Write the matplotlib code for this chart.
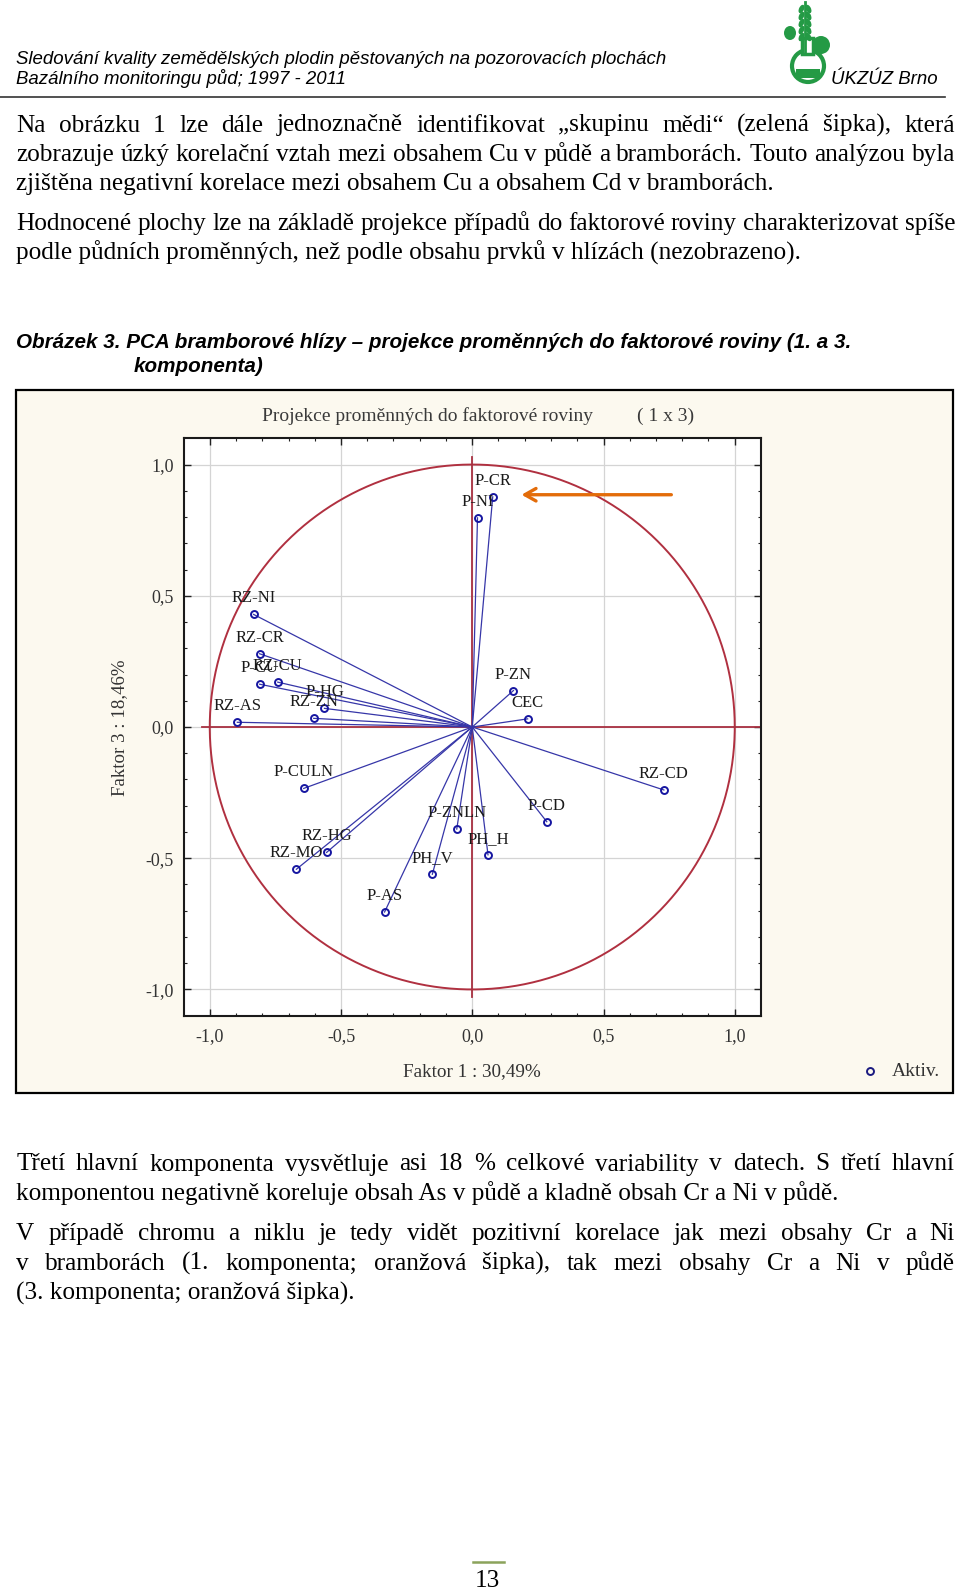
import matplotlib
matplotlib.use('Agg')
import matplotlib.pyplot as plt
import numpy as np
from matplotlib.patches import Rectangle, Circle, Ellipse

# --- data (factor 1 vs factor 3 loadings) ---
labels = ['P-CR', 'P-NI', 'RZ-NI', 'RZ-CR', 'P-CU', 'RZ-CU', 'P-HG', 'RZ-ZN',
          'RZ-AS', 'P-ZN', 'CEC', 'P-CULN', 'RZ-HG', 'RZ-MO', 'P-AS', 'PH_V',
          'P-ZNLN', 'PH_H', 'P-CD', 'RZ-CD']
f1 = [0.078, 0.020, -0.833, -0.810, -0.810, -0.741, -0.563, -0.604,
      -0.895, 0.157, 0.211, -0.642, -0.555, -0.670, -0.334, -0.152,
      -0.059, 0.060, 0.284, 0.730]
f3 = [0.877, 0.797, 0.429, 0.279, 0.163, 0.171, 0.071, 0.033,
      0.018, 0.139, 0.031, -0.234, -0.478, -0.542, -0.705, -0.561,
      -0.389, -0.487, -0.361, -0.240]
ticks = [-1.0, -0.5, 0.0, 0.5, 1.0]
tick_labels = ['-1,0', '-0,5', '0,0', '0,5', '1,0']
title = 'Projekce proměnných do faktorové roviny'
title2 = '( 1 x 3)'
xlab = 'Faktor 1 : 30,49%'
ylab = 'Faktor 3 : 18,46%'
arrow_from = (0.769, 0.885)
arrow_to = (0.177, 0.885)

header1 = 'Sledování kvality zemědělských plodin pěstovaných na pozorovacích plochách'
header2 = 'Bazálního monitoringu půd; 1997 - 2011'
caption1 = 'Obrázek 3. PCA bramborové hlízy – projekce proměnných do faktorové roviny (1. a 3.'
caption2 = 'komponenta)'
# (line, justified, starts new paragraph)
text_top = [
    ('Na obrázku 1 lze dále jednoznačně identifikovat „skupinu mědi“ (zelená šipka), která', True, False),
    ('zobrazuje úzký korelační vztah mezi obsahem Cu v půdě a bramborách. Touto analýzou byla', True, False),
    ('zjištěna negativní korelace mezi obsahem Cu a obsahem Cd v bramborách.', False, False),
    ('Hodnocené plochy lze na základě projekce případů do faktorové roviny charakterizovat spíše', True, True),
    ('podle půdních proměnných, než podle obsahu prvků v hlízách (nezobrazeno).', False, False),
]
text_bottom = [
    ('Třetí hlavní komponenta vysvětluje asi 18 % celkové variability v datech. S třetí hlavní', True, False),
    ('komponentou negativně koreluje obsah As v půdě a kladně obsah Cr a Ni v půdě.', False, False),
    ('V případě chromu a niklu je tedy vidět pozitivní korelace jak mezi obsahy Cr a Ni', True, True),
    ('v bramborách (1. komponenta; oranžová šipka), tak mezi obsahy Cr a Ni v půdě', True, False),
    ('(3. komponenta; oranžová šipka).', False, False),
]

W, H = 960, 1590
fig = plt.figure(figsize=(W / 100, H / 100), dpi=100)
fig.patch.set_facecolor('white')

# page axes in pixel coordinates
pg = fig.add_axes([0, 0, 1, 1])
pg.set_xlim(0, W)
pg.set_ylim(H, 0)
pg.axis('off')
r = fig.canvas.get_renderer()

serif = 'Liberation Serif'
sans = 'Liberation Sans'
body = 18.2


def put_lines(lines, y0, dy, size=body, par=11):
    y = y0
    for txt, just, newpar in lines:
        if newpar:
            y += par
        if not just:
            pg.text(16.2, y, txt, family=serif, fontsize=size, va='baseline')
        else:
            words = txt.split(' ')
            ts = [pg.text(0, y, w, family=serif, fontsize=size, va='baseline') for w in words]
            ws = [t.get_window_extent(renderer=r).width for t in ts]
            gap = (955 - 16.2 - sum(ws)) / (len(words) - 1)
            x = 16.2
            for t, w in zip(ts, ws):
                t.set_x(x)
                x += w + gap
        y += dy


# header
pg.text(16.2, 63.5, header1, family=sans, style='italic', fontsize=13.4, va='baseline')
pg.text(16.2, 84, header2, family=sans, style='italic', fontsize=13.4, va='baseline')
pg.text(831, 84, 'ÚKZÚZ Brno', family=sans, style='italic', fontsize=13.4, va='baseline')
pg.plot([0, 945], [97, 97], color='#333333', lw=1.2)

# logo (rough)
g = '#249a45'
pg.add_patch(Circle((808, 66), 16, fc='white', ec=g, lw=3))
pg.add_patch(Rectangle((802, 38), 11, 16, fc='white', ec=g, lw=2.5))
pg.plot([805, 805], [2, 52], color=g, lw=2)
for yy in [9, 16, 23, 30, 37]:
    pg.add_patch(Ellipse((801.5, yy), 5, 9, angle=25, fc=g, ec='none'))
    pg.add_patch(Ellipse((808.5, yy), 5, 9, angle=-25, fc=g, ec='none'))
pg.add_patch(Ellipse((790, 33), 12, 14, fc=g, ec='none'))
pg.add_patch(Circle((821, 45), 9, fc=g, ec='none'))
pg.add_patch(Rectangle((796, 69), 24, 9, fc=g, ec='none'))

put_lines(text_top, 131.5, 29.3)

# caption
pg.text(16.2, 347.5, caption1, family=sans, style='italic', weight='bold', fontsize=14.9, va='baseline')
pg.text(133.8, 372, caption2, family=sans, style='italic', weight='bold', fontsize=14.9, va='baseline')

# chart box
pg.add_patch(Rectangle((16.2, 390), 937, 703, fc='#fcf9ef', ec='black', lw=1.6))
pg.text(261.5, 416, title, family=serif, fontsize=14, color='#3a3a3a', va='center')
pg.text(636.6, 416, title2, family=serif, fontsize=14, color='#3a3a3a', va='center')
pg.text(471.4, 1071.5, xlab, family=serif, fontsize=13.8, color='#333333', ha='center', va='center')
pg.text(119.6, 728, ylab, family=serif, fontsize=13.6, color='#333333', ha='center', va='center', rotation=90)
pg.plot([869.8], [1071], 'o', ms=5, mfc='none', mec='#1a1a80', mew=1.4)
pg.text(892, 1071, 'Aktiv.', family=serif, fontsize=14, color='#333333', va='center')

put_lines(text_bottom, 1170.5, 29.4)

# page number
pg.plot([473, 504], [1562, 1562], color='#8ba35b', lw=1.8)
pg.text(487, 1587, '13', family=serif, fontsize=body, ha='center', va='baseline')

# PCA plot
ax = fig.add_axes([183.5 / W, 1 - 1015.7 / H, 577.5 / W, 577.4 / H])
ax.set_facecolor('white')
ax.set_xlim(-1.1, 1.1)
ax.set_ylim(-1.1, 1.1)
ax.set_xticks(ticks)
ax.set_yticks(ticks)
ax.set_xticklabels(tick_labels, family=serif, fontsize=13, color='#333333')
ax.set_yticklabels(tick_labels, family=serif, fontsize=13, color='#333333')
ax.set_xticks(np.arange(-1.0, 1.05, 0.1), minor=True)
ax.set_yticks(np.arange(-1.0, 1.05, 0.1), minor=True)
ax.tick_params(which='both', direction='in', top=True, right=True, color='#222222')
ax.tick_params(which='major', length=5, width=1)
ax.tick_params(which='minor', length=2.5, width=0.8)
ax.tick_params(axis='x', pad=9)
ax.tick_params(axis='y', pad=7)
ax.grid(True, which='major', color='#d4d4d4', lw=0.9)
ax.set_axisbelow(True)
for s in ax.spines.values():
    s.set_linewidth(1.5)
    s.set_color('#1a1a1a')

t = np.linspace(0, 2 * np.pi, 400)
ax.plot(np.cos(t), np.sin(t), color='#b03040', lw=1.4, zorder=2)
ax.plot([-1.03, 1.1], [0, 0], color='#a83040', lw=1.3, zorder=2)
ax.plot([0, 0], [-1.03, 1.03], color='#a83040', lw=1.3, zorder=2)

for x, y, lab in zip(f1, f3, labels):
    ax.plot([0, x], [0, y], color='#3636a8', lw=0.9, zorder=3)
    ax.annotate(lab, (x, y), xytext=(0, 11.5), textcoords='offset points',
                ha='center', va='center', family=serif, fontsize=12, color='#1a1a1a', zorder=5)
ax.plot(f1, f3, 'o', ls='none', ms=5, mfc='none', mec='#1515a0', mew=1.4, zorder=4)

ax.annotate('', xy=arrow_to, xytext=arrow_from,
            arrowprops=dict(arrowstyle='->,head_length=0.8,head_width=0.45',
                            color='#e36c0a', lw=2.4), zorder=6)

fig.savefig('out.png', dpi=100)
